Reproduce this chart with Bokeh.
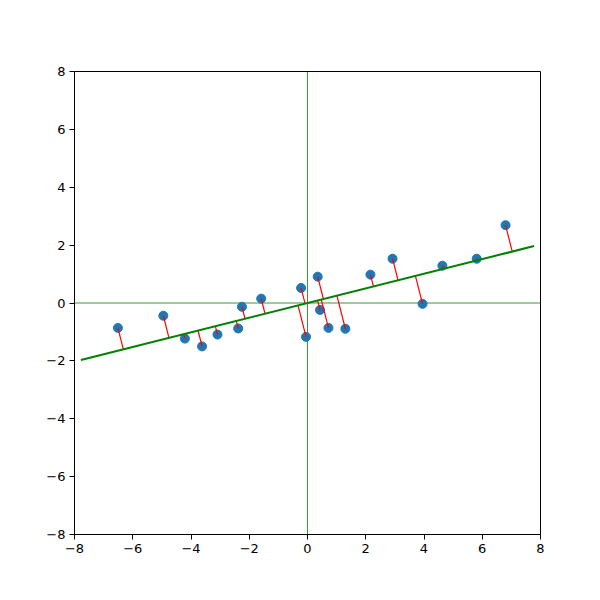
from bokeh.models import ColumnDataSource, FixedTicker, Range1d
from bokeh.plotting import figure
from bokeh.embed import file_html
from bokeh.resources import INLINE
import numpy as np

# points
xs = [-6.51, -4.95, -4.21, -3.62, -3.09, -2.38, -2.25, -1.59, -0.22, -0.05,
      0.35, 0.43, 0.72, 1.30, 2.16, 2.92, 3.95, 4.63, 5.81, 6.80]
ys = [-0.86, -0.44, -1.23, -1.50, -1.09, -0.88, -0.13, 0.15, 0.52, -1.17,
      0.91, -0.24, -0.86, -0.89, 0.98, 1.53, -0.03, 1.29, 1.53, 2.69]

# fitted line through origin
slope = 0.253
line_x = [-7.78, 7.78]
lim = 8
ticks = [-8, -6, -4, -2, 0, 2, 4, 6, 8]
tick_labels = {t: str(t).replace("-", "\u2212") for t in ticks}

x = np.array(xs)
y = np.array(ys)
d = np.array([1.0, slope]) / np.hypot(1.0, slope)
t = x * d[0] + y * d[1]
px = t * d[0]
py = t * d[1]

p = figure(frame_width=466, frame_height=463, min_border_left=74, min_border_top=71,
           min_border_right=40, min_border_bottom=50,
           x_range=Range1d(-lim, lim), y_range=Range1d(-lim, lim),
           output_backend="svg", toolbar_location=None)

p.xgrid.visible = False
p.ygrid.visible = False
p.outline_line_color = "black"
p.outline_line_width = 1
p.outline_line_alpha = 1

for ax in (p.xaxis, p.yaxis):
    ax.ticker = FixedTicker(ticks=ticks)
    ax.major_label_overrides = tick_labels
    ax.minor_tick_line_color = None
    ax.major_tick_in = 0
    ax.major_tick_out = 5
    ax.axis_line_color = None
    ax.major_label_text_font = "DejaVu Sans"
    ax.major_label_text_font_size = "13px"
    ax.major_label_text_color = "black"
    ax.major_tick_line_color = "black"
p.xaxis.major_label_standoff = 4
p.yaxis.major_label_standoff = 4

# zero lines across the whole frame
p.segment(x0=[-lim, 0], y0=[0, -lim], x1=[lim, 0], y1=[0, lim],
          line_color="green", line_width=0.8)

src = ColumnDataSource(data=dict(x=x, y=y, px=px, py=py))
p.scatter("x", "y", source=src, size=9, color="#1f77b4")
p.segment("x", "y", "px", "py", source=src, line_color="red", line_width=1.2)
p.line(line_x, [slope * v for v in line_x], line_color="green", line_width=2)

open("out.html", "w").write(file_html(p, INLINE))
